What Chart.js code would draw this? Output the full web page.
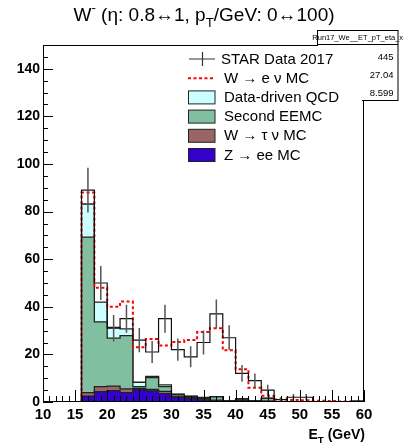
<!DOCTYPE html>
<html>
<head>
<meta charset="utf-8">
<script src="https://cdn.jsdelivr.net/npm/chart.js@4/dist/chart.umd.min.js"></script>
<style>
html, body { margin: 0; padding: 0; background: #fff; }
canvas { display: block; }
</style>
</head>
<body>
<canvas id="chart" width="405" height="448"></canvas>
<script>
// 2 GeV bins, edges in GeV
const binEdges = [10, 12, 14, 16, 18, 20, 22, 24, 26, 28, 30, 32, 34, 36, 38, 40, 42, 44, 46, 48, 50, 52, 54, 56, 58, 60];
// STAR data and its errors, per bin
const starData = [0, 0, 0, 89, 50, 31, 35, 26, 21, 35, 22, 19, 25, 37, 27, 12, 9, 5, 1, 2, 2, 0, 0, 0, 0];
const starErr  = [0, 0, 0, 9.4, 7.1, 5.6, 5.9, 5.1, 4.6, 5.9, 4.7, 4.4, 5, 6.1, 5.2, 3.5, 3, 2.2, 1, 1.4, 1.4, 0, 0, 0, 0];
// W -> e nu MC (red dashed)
const wenuMC   = [0, 0, 0, 88, 48, 40, 42.2, 23, 26.5, 23.7, 25.2, 26, 29.4, 31, 21.7, 13.8, 6, 2.6, 1, 0.8, 0.7, 0.5, 0.4, 0.2, 0];
// stacked backgrounds, bottom to top
const zeeMC    = [0, 0, 0, 2.5, 4.3, 4.8, 3.9, 5.2, 4.7, 3.5, 2.0, 1.4, 0.9, 0.5, 0.3, 0.6, 0.2, 0.2, 0, 0, 0, 0, 0, 0, 0];
const wtaunuMC = [0, 0, 0, 1.4, 2.2, 1.9, 1.6, 0.5, 0.6, 1.0, 0.5, 0.6, 0.5, 0.3, 0.2, 0.6, 0.2, 0.2, 0, 0, 0, 0, 0, 0, 0];
const eemcBkg  = [0, 0, 0, 65.4, 27.2, 20.1, 22.4, 0.8, 5.0, 2.0, 0.7, 0.4, 0.4, 1.4, 0.1, 0.1, 0.1, 1.1, 0, 0, 0, 0, 0, 0, 0];
const qcdBkg   = [0, 0, 0, 13.9, 8.3, 4.5, 2.8, 1.8, 0.5, 0.7, 0.1, 0.1, 0.1, 0.1, 0, 0.1, 0, 0.1, 0, 0, 0, 0, 0, 0, 0.5];

const legendLabels = ['STAR Data 2017', 'W \u2192 e \u03bd MC', 'Data-driven QCD', 'Second EEMC', 'W \u2192 \u03c4 \u03bd MC', 'Z \u2192 ee MC'];
const statsName = 'Run17_We__ET_pT_eta_x';
const statsValues = ['445', '27.04', '8.599'];

const colQCD = '#ccffff', colEEMC = '#80c0a0', colTau = '#996666', colZ = '#3300cc';
const FONT = '"Liberation Sans", Arial, Helvetica, sans-serif';
Chart.defaults.font.family = FONT;

// histogram as step points (value holds from left edge to next edge)
function stepPoints(vals) {
    var pts = [{x: binEdges[0], y: 0}];
    vals.forEach((v, i) => pts.push({x: binEdges[i], y: v}));
    pts.push({x: binEdges[vals.length], y: vals[vals.length - 1]});
    pts.push({x: binEdges[vals.length], y: 0});
    return pts;
}

function addUp(...lists) {
    return lists[0].map((v, i) => lists.reduce((s, l) => s + l[i], 0));
}

function errorPoints(vals, errs) {
    var pts = [];
    vals.forEach((v, i) => {
        if (v <= 0) return;
        var c = (binEdges[i] + binEdges[i + 1]) / 2;
        pts.push({x: c, y: v - errs[i]}, {x: c, y: v + errs[i]}, {x: c, y: null});
    });
    return pts;
}

const stackZ = addUp(zeeMC);
const stackTau = addUp(zeeMC, wtaunuMC);
const stackEEMC = addUp(zeeMC, wtaunuMC, eemcBkg);
const stackQCD = addUp(zeeMC, wtaunuMC, eemcBkg, qcdBkg);

function stackSet(vals, color) {
    return {
        data: stepPoints(vals), stepped: true, fill: 'origin',
        backgroundColor: color, borderColor: '#222', borderWidth: 1.3
    };
}

function richText(ctx, parts, x, y, size, weight, align) {
    var w = 0;
    parts.forEach(p => {
        var s = p.sub || p.sup ? size * 0.7 : size;
        ctx.font = weight + ' ' + s + 'px ' + FONT;
        p.w = ctx.measureText(p.t).width;
        w += p.w;
    });
    var cx = align === 'center' ? x - w / 2 : (align === 'right' ? x - w : x);
    ctx.textAlign = 'left';
    ctx.textBaseline = 'alphabetic';
    parts.forEach(p => {
        var s = p.sub || p.sup ? size * 0.7 : size;
        ctx.font = weight + ' ' + s + 'px ' + FONT;
        var dy = p.sub ? size * 0.3 : (p.sup ? -size * 0.45 : 0);
        ctx.fillText(p.t, cx, y + dy);
        cx += p.w;
    });
}

const rootDecor = {
    id: 'rootDecor',
    afterDraw(chart) {
        const ctx = chart.ctx, a = chart.chartArea;
        const xs = chart.scales.x, ys = chart.scales.y;
        ctx.save();
        ctx.strokeStyle = '#000';
        ctx.lineWidth = 1;
        // inward ticks
        ctx.beginPath();
        for (let v = 10; v <= 60; v++) {
            const px = Math.round(xs.getPixelForValue(v)) + 0.5;
            const len = v % 5 === 0 ? 12 : 6;
            ctx.moveTo(px, a.bottom);
            ctx.lineTo(px, a.bottom - len);
        }
        for (let v = 0; v <= 150; v += 5) {
            const py = Math.round(ys.getPixelForValue(v)) + 0.5;
            const len = v % 20 === 0 ? 10 : 5;
            ctx.moveTo(a.left, py);
            ctx.lineTo(a.left + len, py);
        }
        ctx.stroke();
        // frame
        ctx.strokeRect(Math.round(a.left) + 0.5, Math.round(a.top) + 0.5, Math.round(a.width) - 1, Math.round(a.height) - 1);

        // stats box
        ctx.fillStyle = '#fff';
        ctx.fillRect(317.5, 30.5, 80.5, 70);
        ctx.strokeRect(317.5, 30.5, 80.5, 70);
        ctx.beginPath();
        ctx.moveTo(317.5, 44.5);
        ctx.lineTo(398, 44.5);
        ctx.stroke();
        ctx.fillStyle = '#000';
        ctx.font = '7.5px ' + FONT;
        ctx.textAlign = 'center';
        ctx.textBaseline = 'middle';
        ctx.fillText(statsName, 357.7, 38);
        ctx.font = '9.5px ' + FONT;
        ctx.textAlign = 'right';
        [57, 75, 93].forEach((y, i) => ctx.fillText(statsValues[i], 393.5, y));

        // legend
        ctx.fillStyle = '#fff';
        ctx.fillRect(176, 46, 186, 123);
        const rows = [59, 78.2, 97.4, 116.6, 135.8, 155];
        // data cross
        ctx.strokeStyle = '#333';
        ctx.lineWidth = 1.2;
        ctx.beginPath();
        ctx.moveTo(189, rows[0]); ctx.lineTo(215, rows[0]);
        ctx.moveTo(202.5, rows[0] - 7); ctx.lineTo(202.5, rows[0] + 7);
        ctx.stroke();
        // MC dashed
        ctx.strokeStyle = '#ff0000';
        ctx.lineWidth = 2;
        ctx.setLineDash([3, 2.5]);
        ctx.beginPath();
        ctx.moveTo(188, rows[1]); ctx.lineTo(215, rows[1]);
        ctx.stroke();
        ctx.setLineDash([]);
        // filled boxes
        ctx.strokeStyle = '#222';
        ctx.lineWidth = 1;
        [colQCD, colEEMC, colTau, colZ].forEach((c, i) => {
            const y = rows[i + 2];
            ctx.fillStyle = c;
            ctx.fillRect(188.5, y - 6.5, 26.5, 13);
            ctx.strokeRect(188.5, y - 6.5, 26.5, 13);
        });
        ctx.fillStyle = '#000';
        ctx.font = '15px ' + FONT;
        ctx.textAlign = 'left';
        ctx.textBaseline = 'middle';
        legendLabels.forEach((t, i) => ctx.fillText(t, i === 0 ? 221 : 224, rows[i] + 0.5));

        // title
        ctx.fillStyle = '#000';
        richText(ctx, [{t: 'W'}, {t: '-', sup: true}, {t: ' (\u03b7: 0.8\u21941, p'}, {t: 'T', sub: true}, {t: '/GeV: 0\u2194100)'}],
            204, 21, 19, 'normal', 'center');
        // x axis title
        richText(ctx, [{t: 'E'}, {t: 'T', sub: true}, {t: ' (GeV)'}], 365, 439, 14, 'bold', 'right');
        ctx.restore();
    }
};

new Chart(document.getElementById('chart'), {
    type: 'line',
    data: {
        datasets: [
            {data: errorPoints(starData, starErr), borderColor: '#555', borderWidth: 1.5, spanGaps: false},
            {data: stepPoints(starData), stepped: true, borderColor: '#111', borderWidth: 1.2},
            {data: stepPoints(wenuMC), stepped: true, borderColor: '#ff0000', borderWidth: 2, borderDash: [3, 2.5]},
            stackSet(stackZ, colZ),
            stackSet(stackTau, colTau),
            stackSet(stackEEMC, colEEMC),
            stackSet(stackQCD, colQCD)
        ]
    },
    options: {
        responsive: false,
        animation: false,
        devicePixelRatio: 1,
        events: [],
        layout: {padding: {top: 45, right: 41, left: 0, bottom: 0}},
        elements: {point: {radius: 0}, line: {tension: 0}},
        plugins: {legend: {display: false}, tooltip: {enabled: false}, title: {display: false}},
        scales: {
            x: {
                type: 'linear', min: 10, max: 60,
                ticks: {stepSize: 5, autoSkip: false, maxRotation: 0, color: '#000', padding: 4,
                    font: {size: 15, weight: 'bold'}},
                grid: {display: false, drawTicks: false},
                border: {display: false},
                afterFit(s) { s.height = 46; }
            },
            y: {
                type: 'linear', min: 0, max: 150,
                ticks: {stepSize: 20, autoSkip: false, color: '#000', padding: 3,
                    font: {size: 14, weight: 'bold'}},
                afterBuildTicks(s) { s.ticks = s.ticks.filter(t => t.value % 20 === 0); },
                grid: {display: false, drawTicks: false},
                border: {display: false},
                afterFit(s) { s.width = 43; }
            }
        }
    },
    plugins: [rootDecor]
});
</script>
</body>
</html>
